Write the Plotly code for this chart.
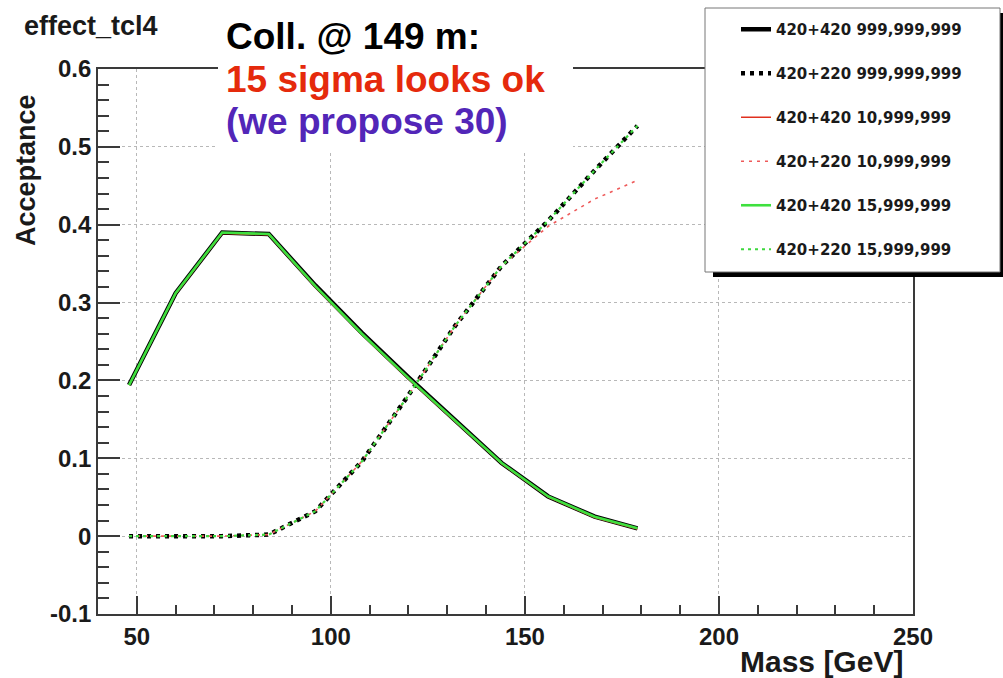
import plotly.graph_objects as go

# ---------------- data ----------------
mass = [48, 60, 72, 84, 96, 108, 120, 132, 144, 156, 168, 179]

acc_420_420_999 = [0.194, 0.312, 0.390, 0.388, 0.322, 0.261, 0.204, 0.149, 0.094, 0.051, 0.025, 0.010]
acc_420_220_999 = [0.000, 0.000, 0.000, 0.002, 0.032, 0.096, 0.181, 0.270, 0.347, 0.405, 0.470, 0.527]
acc_420_420_10 = [0.194, 0.311, 0.389, 0.387, 0.320, 0.259, 0.202, 0.147, 0.093, 0.050, 0.024, 0.009]
acc_420_220_10 = [0.000, 0.000, 0.000, 0.002, 0.032, 0.096, 0.181, 0.270, 0.347, 0.398, 0.433, 0.457]
acc_420_420_15 = [0.194, 0.312, 0.390, 0.388, 0.321, 0.260, 0.203, 0.148, 0.094, 0.051, 0.025, 0.010]
acc_420_220_15 = [0.000, 0.000, 0.000, 0.002, 0.032, 0.096, 0.181, 0.270, 0.347, 0.405, 0.470, 0.527]

legend_names = [
    "420+420 999,999,999",
    "420+220 999,999,999",
    "420+420 10,999,999",
    "420+220 10,999,999",
    "420+420 15,999,999",
    "420+220 15,999,999",
]

x_ticks = [50, 100, 150, 200, 250]
y_ticks = [-0.1, 0, 0.1, 0.2, 0.3, 0.4, 0.5, 0.6]
y_tick_text = ["-0.1", "0", "0.1", "0.2", "0.3", "0.4", "0.5", "0.6"]

# ---------------- layout geometry ----------------
W, H = 1003, 678
L, R, T, B = 98, 90, 69, 64
PW = W - L - R
PH = H - T - B


def px(xp):
    return (xp - L) / PW


def py(yp):
    return (H - B - yp) / PH


FONT = "Liberation Sans"

series = [
    (acc_420_420_999, dict(color="black", width=4.5)),
    (acc_420_220_999, dict(color="black", width=4.5, dash="4px,5px")),
    (acc_420_420_10, dict(color="#e0301e", width=1.5)),
    (acc_420_220_10, dict(color="#ee5a5a", width=1.6, dash="3px,5px")),
    (acc_420_420_15, dict(color="#3ee03e", width=2.6)),
    (acc_420_220_15, dict(color="#3ed83e", width=2.2, dash="3px,4px")),
]

fig = go.Figure()
for i, ((vals, line), name) in enumerate(zip(series, legend_names)):
    fig.add_trace(go.Scatter(
        x=mass, y=vals, mode="lines", name=name, line=line,
        legendgroup=f"g{i}",
    ))

shapes = [
    # white box behind the comment text
    dict(type="rect", xref="paper", yref="paper", x0=px(218), x1=px(573),
         y0=py(152), y1=py(0), fillcolor="white", line=dict(width=0), layer="above"),
    # legend shadow
    dict(type="rect", xref="paper", yref="paper", x0=px(713), x1=px(1006),
         y0=py(277), y1=py(13), fillcolor="black", line=dict(width=0), layer="above"),
    # legend box
    dict(type="rect", xref="paper", yref="paper", x0=px(705), x1=px(1000),
         y0=py(272), y1=py(8), fillcolor="white",
         line=dict(color="#777777", width=1), layer="above"),
]

annotations = [
    dict(text="effect_tcl4", x=px(22), y=py(26), xref="paper", yref="paper",
         xanchor="left", yanchor="middle", showarrow=False,
         font=dict(family=FONT, size=27, color="#1a1a1a", weight="bold")),
    dict(text="Coll. @ 149 m:", x=px(224), y=py(36), xref="paper", yref="paper",
         xanchor="left", yanchor="middle", showarrow=False,
         font=dict(family=FONT, size=37, color="black", weight="bold")),
    dict(text="15 sigma looks ok", x=px(224), y=py(79), xref="paper", yref="paper",
         xanchor="left", yanchor="middle", showarrow=False,
         font=dict(family=FONT, size=37, color="#e52a0c", weight="bold")),
    dict(text="(we propose 30)", x=px(224), y=py(122), xref="paper", yref="paper",
         xanchor="left", yanchor="middle", showarrow=False,
         font=dict(family=FONT, size=37, color="#5226b8", weight="bold")),
    dict(text="Acceptance", x=px(26), y=py(170), xref="paper", yref="paper",
         xanchor="center", yanchor="middle", showarrow=False, textangle=-90,
         font=dict(family=FONT, size=27, color="#1a1a1a", weight="bold")),
    dict(text="Mass [GeV]", x=px(905), y=py(661), xref="paper", yref="paper",
         xanchor="right", yanchor="middle", showarrow=False,
         font=dict(family=FONT, size=30, color="#1a1a1a", weight="bold")),
]

axis_common = dict(
    showline=True, linecolor="#3a3a3a", linewidth=1.6, mirror=True,
    showgrid=True, gridcolor="#b8b8b8", griddash="dot", gridwidth=1,
    zeroline=False, ticks="inside", tickcolor="#3a3a3a", tickwidth=1.6,
    tickfont=dict(family=FONT, size=24, color="#1a1a1a", weight="bold"),
)

fig.update_xaxes(
    range=[40, 250], tickmode="array", tickvals=x_ticks, ticklen=18,
    minor=dict(dtick=10, tick0=40, ticks="inside", ticklen=9, tickcolor="#3a3a3a",
               tickwidth=1.6, showgrid=False),
    **axis_common,
)
fig.update_yaxes(
    range=[-0.1, 0.6], tickmode="array", tickvals=y_ticks, ticktext=y_tick_text,
    ticklen=22,
    minor=dict(dtick=0.02, tick0=0, ticks="inside", ticklen=11, tickcolor="#3a3a3a",
               tickwidth=1.6, showgrid=False),
    **axis_common,
)

fig.update_layout(
    width=W, height=H,
    margin=dict(l=L, r=R, t=T, b=B, pad=0),
    paper_bgcolor="white", plot_bgcolor="white",
    shapes=shapes, annotations=annotations,
    showlegend=True,
    legend=dict(
        x=px(736), y=py(13), xanchor="left", yanchor="top",
        xref="paper", yref="paper",
        bgcolor="rgba(0,0,0,0)", borderwidth=0,
        font=dict(family="DejaVu Sans", size=15, color="#1a1a1a", weight="bold"),
        tracegroupgap=21.5, traceorder="grouped",
    ),
)

fig.write_html("out.html")
